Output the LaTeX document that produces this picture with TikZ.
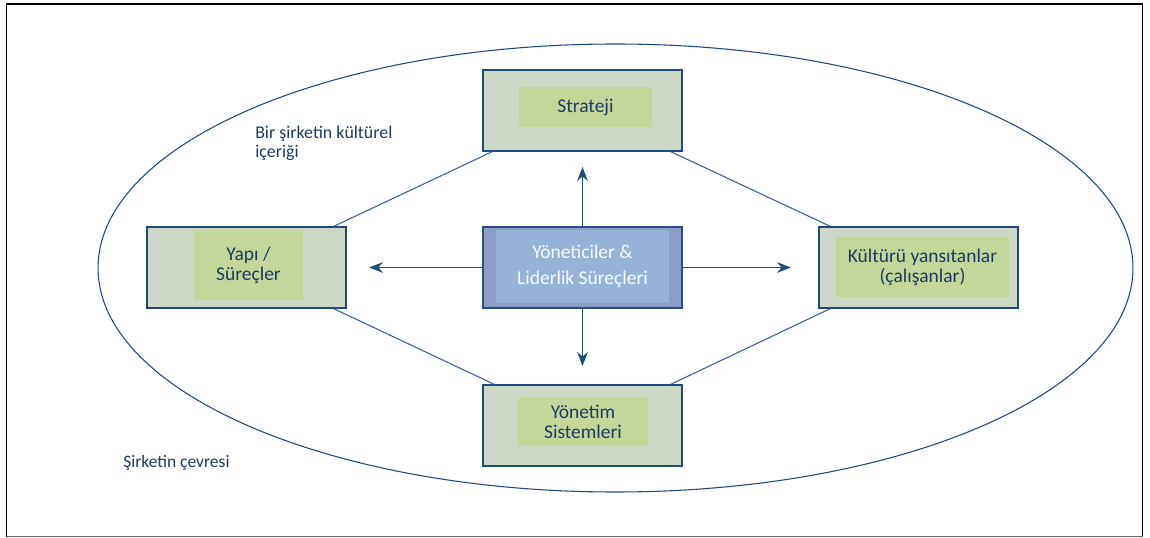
\documentclass[tikz,border=0pt]{standalone}
\usepackage{fontspec}
\setmainfont{Carlito}
\usetikzlibrary{arrows.meta,calc}

\definecolor{frameblue}{HTML}{1F497D}
\definecolor{linkblue}{HTML}{3A5F98}
\definecolor{outerfill}{HTML}{CDD8C6}
\definecolor{innerfill}{HTML}{C4D79B}
\definecolor{txtblue}{HTML}{1F3864}
\definecolor{coreouter}{HTML}{8C9EC6}
\definecolor{coreinner}{HTML}{95B3D7}
\definecolor{coreedge}{HTML}{2F4B8A}
\definecolor{arrowblue}{HTML}{1F4E79}

\tikzset{
  outerbox/.style={draw=frameblue, line width=0.9pt, fill=outerfill,
    minimum width=149.25pt, minimum height=60.75pt, inner sep=0pt},
  innerbox/.style={fill=innerfill, inner sep=0pt, align=center,
    text=txtblue, font=\fontsize{14.6}{15}\selectfont},
  coreouterbox/.style={draw=coreedge, line width=0.9pt, fill=coreouter,
    minimum width=149.25pt, minimum height=60.75pt, inner sep=0pt},
  coreinnerbox/.style={fill=coreinner, inner sep=0pt, align=center,
    text=white!93!coreinner, font=\fontsize{14.6}{19.5}\selectfont},
  link/.style={draw=linkblue, line width=0.8pt},
  flow/.style={draw=arrowblue, line width=0.9pt,
    -{Stealth[length=10.5pt,width=8pt]}},
  caption/.style={text=txtblue, align=left, inner sep=0pt, anchor=base west,
    font=\fontsize{13.4}{14.5}\selectfont}
}

\begin{document}
\begin{tikzpicture}[x=0.75pt,y=-0.75pt]
  \useasboundingbox (0,0) rectangle (1150,538);

  % page frame
  \draw[black, line width=1.4pt] (6.5,536.5) -- (6.5,4.2) -- (1142.5,4.2) -- (1142.5,536.5);
  \draw[black!60, line width=1pt] (6.5,536.8) -- (1142.5,536.8);

  % company environment
  \draw[frameblue, line width=0.8pt] (615.5,268) ellipse [x radius=388.1pt, y radius=168pt];

  % outer boxes
  \node[outerbox] (strat) at (582.5,110.5) {};
  \node[outerbox] (yapi)  at (246.5,267.5) {};
  \node[outerbox] (kult)  at (918.5,267.5) {};
  \node[outerbox] (yon)   at (582.5,425.5) {};
  \node[coreouterbox] (core) at (582.5,267.5) {};

  % inner labels
  \node[innerbox, minimum width=99.75pt, minimum height=30pt] (stratin) at (585.5,107) {Strateji};
  \node[innerbox, minimum width=81.75pt, minimum height=52.5pt] (yapiin) at (248.5,265) {Yapı /\\Süreçler};
  \node[innerbox, minimum width=129.75pt, minimum height=45pt] (kultin) at (922.5,267) {Kültürü yansıtanlar\\(çalışanlar)};
  \node[innerbox, minimum width=97.5pt, minimum height=36pt] (yonin) at (583,422) {Yönetim\\Sistemleri};
  \node[coreinnerbox, minimum width=129.75pt, minimum height=54.75pt] (corein) at (582.5,266.5) {Yöneticiler \&\\Liderlik Süreçleri};

  % links between the outer boxes
  \draw[link] ($(strat.south west)+(10,0)$) -- ($(yapi.north east)+(-13,0)$);
  \draw[link] ($(strat.south east)+(-12,0)$) -- ($(kult.north west)+(12,0)$);
  \draw[link] ($(yapi.south east)+(-13,0)$) -- ($(yon.north west)+(12,0)$);
  \draw[link] ($(kult.south west)+(12,0)$) -- ($(yon.north east)+(-12,0)$);

  % arrows from the core
  \coordinate (up)    at (582.5,167);
  \coordinate (left)  at (369,267.5);
  \coordinate (right) at (791,267.5);
  \coordinate (down)  at (582.5,366);
  \draw[flow] (core.north) -- (up);
  \draw[flow] (core.west) -- (left);
  \draw[flow] (core.east) -- (right);
  \draw[flow] (core.south) -- (down);

  % captions (base anchor sits on the last line)
  \node[caption] (inner) at (255,158) {Bir şirketin kültürel\\içeriği};
  \node[caption, font=\fontsize{13.1}{14}\selectfont] (env) at (123,467) {Şirketin çevresi};
\end{tikzpicture}
\end{document}
